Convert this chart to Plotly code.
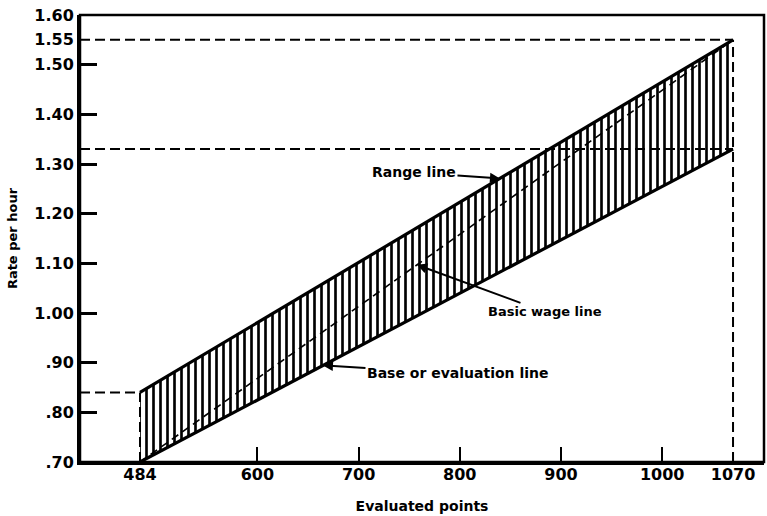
import plotly.graph_objects as go

# ---- data ----
points = [484, 1070]
base_rates = [0.70, 1.33]      # base or evaluation line
range_rates = [0.84, 1.55]     # range line
basic_rates = [0.70, 1.55]     # basic wage line

x_tick_vals = [484, 600, 700, 800, 900, 1000, 1070]
x_tick_text = ["484", "600", "700", "800", "900", "1000", "1070"]
x_tick_marks = [600, 700, 800, 900, 1000]

y_tick_vals = [0.70, 0.80, 0.90, 1.00, 1.10, 1.20, 1.30, 1.40, 1.50, 1.55, 1.60]
y_tick_text = [".70", ".80", ".90", "1.00", "1.10", "1.20", "1.30", "1.40", "1.50", "1.55", "1.60"]
y_tick_marks = [0.80, 0.90, 1.00, 1.10, 1.20, 1.30, 1.40, 1.50]

X_RANGE = [424.7, 1100.6]
Y_RANGE = [0.70, 1.60]

FONT = "DejaVu Sans"
guide = dict(color="black", width=2, dash="10px,5px")
nohover = dict(showlegend=False, hoverinfo="skip")

fig = go.Figure()

# hatched band between base line and range line
fig.add_trace(go.Scatter(x=points, y=base_rates, mode="lines",
                         line=dict(color="black", width=0), **nohover))
fig.add_trace(go.Scatter(x=points, y=range_rates, mode="lines", fill="tonexty",
                         fillcolor="white",
                         fillpattern=dict(shape="|", size=7, solidity=0.38,
                                          fgcolor="black", bgcolor="white", fgopacity=1),
                         line=dict(color="black", width=0), **nohover))

# dashed guide lines
fig.add_trace(go.Scatter(x=[X_RANGE[0], points[1]], y=[range_rates[1]] * 2, mode="lines",
                         line=guide, **nohover))
fig.add_trace(go.Scatter(x=[X_RANGE[0], points[1]], y=[base_rates[1]] * 2, mode="lines",
                         line=guide, **nohover))
fig.add_trace(go.Scatter(x=[X_RANGE[0], points[0]], y=[range_rates[0]] * 2, mode="lines",
                         line=guide, **nohover))
fig.add_trace(go.Scatter(x=[points[0]] * 2, y=[Y_RANGE[0], range_rates[0]], mode="lines",
                         line=guide, **nohover))
fig.add_trace(go.Scatter(x=[points[1]] * 2, y=[Y_RANGE[0], range_rates[1]], mode="lines",
                         line=guide, **nohover))

# basic wage line (dashed diagonal)
fig.add_trace(go.Scatter(x=points, y=basic_rates, mode="lines",
                         line=dict(color="black", width=1.6, dash="8px,5px"), **nohover))

# solid range and base lines
fig.add_trace(go.Scatter(x=points, y=range_rates, mode="lines",
                         line=dict(color="black", width=3.2), **nohover))
fig.add_trace(go.Scatter(x=points, y=base_rates, mode="lines",
                         line=dict(color="black", width=3.2), **nohover))

# empty trace on overlay axes that carry the tick marks
fig.add_trace(go.Scatter(x=[], y=[], xaxis="x2", yaxis="y2", mode="lines", **nohover))


def on_line(xs, ys, x):
    return ys[0] + (ys[1] - ys[0]) * (x - xs[0]) / (xs[1] - xs[0])


ann_font = dict(family=FONT, size=14, color="black", weight="bold")
x_r = 839.7
x_b = 664.8
x_w = 757.7
annotations = [
    dict(x=x_r, y=on_line(points, range_rates, x_r), text="Range line",
         ax=-86, ay=-6, font=ann_font),
    dict(x=x_b, y=on_line(points, base_rates, x_b), text="Base or evaluation line",
         ax=135, ay=8, font=ann_font),
    dict(x=x_w, y=on_line(points, basic_rates, x_w), text="Basic wage line",
         ax=128, ay=47, font=dict(ann_font, size=13)),
]
for a in annotations:
    a.update(xref="x", yref="y", showarrow=True, arrowhead=2, arrowsize=1,
             arrowwidth=2, arrowcolor="black")

fig.update_layout(
    width=767, height=516,
    margin=dict(l=80, r=3, t=15, b=54),
    paper_bgcolor="white", plot_bgcolor="white",
    font=dict(family=FONT, color="black", weight="bold"),
    annotations=annotations,
    showlegend=False,
    shapes=[dict(type="rect", xref="paper", yref="paper", x0=0, x1=1, y0=0, y1=1,
                 line=dict(color="black", width=2.5), layer="above")],
    xaxis=dict(
        range=X_RANGE, showgrid=False, zeroline=False, automargin=False,
        showline=True, linewidth=3, linecolor="black",
        tickmode="array", tickvals=x_tick_vals, ticktext=x_tick_text,
        ticks="", ticklabelstandoff=-4,
        tickfont=dict(family=FONT, size=16, color="black", weight="bold"),
        title=dict(text="Evaluated points", standoff=18,
                   font=dict(family=FONT, size=14, color="black", weight="bold")),
    ),
    yaxis=dict(
        range=Y_RANGE, showgrid=False, zeroline=False, automargin=False,
        showline=True, linewidth=3, linecolor="black",
        tickmode="array", tickvals=y_tick_vals, ticktext=y_tick_text,
        ticks="",
        tickfont=dict(family=FONT, size=16, color="black", weight="bold"),
        title=dict(text="Rate per hour", standoff=14,
                   font=dict(family=FONT, size=13, color="black", weight="bold")),
    ),
    xaxis2=dict(
        overlaying="x", anchor="y2", side="bottom", range=X_RANGE, automargin=False,
        showgrid=False, zeroline=False, showline=False, showticklabels=False,
        tickmode="array", tickvals=x_tick_marks, ticks="inside", ticklen=15,
        tickwidth=2, tickcolor="black",
    ),
    yaxis2=dict(
        overlaying="y", anchor="x2", side="left", range=Y_RANGE, automargin=False,
        showgrid=False, zeroline=False, showline=False, showticklabels=False,
        tickmode="array", tickvals=y_tick_marks, ticks="inside", ticklen=17,
        tickwidth=2.5, tickcolor="black",
    ),
)

fig.write_html("out.html", config={"displayModeBar": False},
               post_script="document.body.style.margin='0';document.body.style.padding='0';")
